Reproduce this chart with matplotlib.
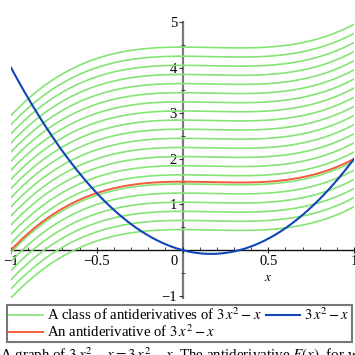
import numpy as np
import matplotlib
matplotlib.use("Agg")
import matplotlib.pyplot as plt
from matplotlib.transforms import ScaledTranslation

plt.rcParams['font.family'] = ['Liberation Serif', 'DejaVu Serif']
plt.rcParams['mathtext.fontset'] = 'stix'

# Data
x_range = [-1.0, 1.0]
red_constant = 1.5                      # F(x) = x^3 - x^2/2 + 1.5
green_constants = [0.45, 0.65, 0.85, 1.05, 1.25, 1.45, 1.65, 1.85, 2.05, 2.25,
                   2.45, 2.65, 2.85, 3.05, 3.25, 3.45, 3.65, 3.85, 4.05, 4.25, 4.45]
xtick_values = [-1, -0.5, 0, 0.5, 1]
xtick_labels = ["\u22121", "\u22120.5", "0", "0.5", "1"]
ytick_values = [-1, 1, 2, 3, 4, 5]
ytick_labels = ["\u22121", "1", "2", "3", "4", "5"]
legend_labels = ["A class of antiderivatives of $3\\,x^2 - x$",
                 "An antiderivative of $3\\,x^2 - x$",
                 "$3\\,x^2 - x$"]
caption = ("A graph of $3\\,x^2 - x = 3\\,x^2 - x$. The antiderivative $F(x)$, "
           "for which $F(0) = 3/2$, is shown in red.")

x = np.linspace(x_range[0], x_range[1], 400)
f = 3 * x**2 - x
F0 = x**3 - x**2 / 2

fig = plt.figure(figsize=(3.55, 3.55), dpi=100)
ax = fig.add_axes([11/355, 1 - 298/355, 343/355, (298 - 22)/355])

green_col = '#84E474'
red_col = '#F25C3C'
blue_col = '#1146B5'

for i, c in enumerate(green_constants):
    ax.plot(x, F0 + c, color=green_col, lw=1.2,
            label=legend_labels[0] if i == 0 else None, zorder=2)
ax.plot(x, F0 + red_constant, color=red_col, lw=1.4, label=legend_labels[1], zorder=3)
ax.plot(x, f, color=blue_col, lw=1.5, label=legend_labels[2], zorder=4)

ax.set_xlim(*x_range)
ax.set_ylim(-1.05, 5.0)

for s in ['top', 'right']:
    ax.spines[s].set_visible(False)
ax.spines['left'].set_position(('data', 0))
ax.spines['bottom'].set_position(('data', 0))
ax.spines['left'].set_color('#7a7a7a')
ax.spines['left'].set_linewidth(1.6)
ax.spines['bottom'].set_color('#111111')
ax.spines['bottom'].set_linewidth(1.0)
ax.spines['left'].set_zorder(1)
ax.spines['bottom'].set_zorder(1)

ax.set_xticks(xtick_values, xtick_labels)
ax.set_xticks(np.round(np.arange(-1, 1.001, 0.1), 2), minor=True)
ax.set_yticks(ytick_values, ytick_labels)
ax.set_yticks([-0.5, 0.5, 1.5, 2.5, 3.5, 4.5], minor=True)

ax.tick_params(axis='x', which='major', direction='inout', length=5, width=0.8,
               labelsize=10.5, pad=1, color='#222222')
ax.tick_params(axis='x', which='minor', direction='in', length=2.5, width=0.6, color='#222222')
ax.tick_params(axis='y', which='major', direction='out', length=3, width=0.8,
               labelsize=10.5, pad=1, color='#333333')
ax.tick_params(axis='y', which='minor', direction='inout', length=3, width=0.6, color='#333333')

for lab in ax.get_xticklabels():
    if lab.get_text() == "0":
        lab.set_transform(lab.get_transform() + ScaledTranslation(-6/72, 0, fig.dpi_scale_trans))

xl = ax.text(0.5, 0, "$x$", fontsize=9.5, ha='center', va='top')
xl.set_transform(ax.transData + ScaledTranslation(0, -16/72, fig.dpi_scale_trans))

handles, labels = ax.get_legend_handles_labels()
leg = fig.legend(handles, labels, ncol=2, loc='upper left',
                 bbox_to_anchor=(7/355, 1 - 305/355), borderaxespad=0,
                 fontsize=10.6, frameon=True, fancybox=False, handlelength=2.3,
                 handletextpad=0.3, columnspacing=0.3, labelspacing=0.0,
                 borderpad=0.12)
leg.get_frame().set_edgecolor('#555555')
leg.get_frame().set_linewidth(1.5)

fig.text(0.0, -0.013, caption, fontsize=10.8, ha='left', va='baseline')

fig.savefig("out.png", dpi=100)
